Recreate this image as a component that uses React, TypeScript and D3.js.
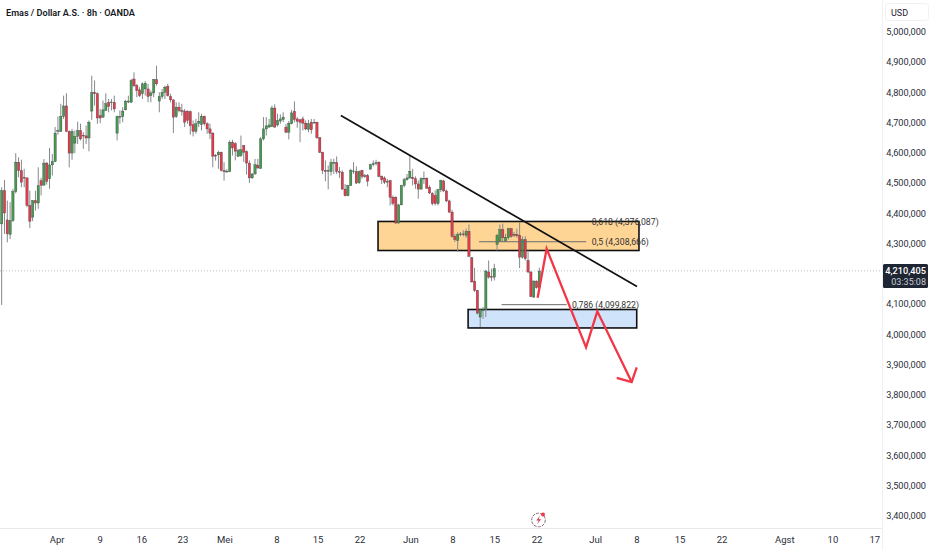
import React from 'react';
import * as d3 from 'd3';

// prices in thousandths of the axis unit
const opens = [4364,4474,4377,4329,4375,4471,4568,4540,4518,4516,4425,4386,4441,4433,4507,4492,4565,4513,4559,4570,4670,4670,4719,4754,4670,4598,4631,4653,4673,4657,4655,4648,4737,4799,4794,4722,4717,4739,4766,4765,4766,4664,4717,4719,4741,4767,4766,4843,4821,4807,4794,4810,4810,4788,4797,4841,4770,4785,4799,4819,4785,4774,4719,4750,4739,4737,4737,4735,4692,4670,4697,4692,4720,4695,4678,4664,4591,4592,4601,4541,4536,4537,4634,4629,4587,4590,4623,4603,4565,4516,4529,4558,4547,4645,4678,4684,4686,4747,4691,4704,4709,4684,4667,4695,4736,4711,4708,4711,4697,4676,4700,4698,4700,4649,4601,4541,4538,4537,4565,4567,4537,4535,4479,4457,4491,4537,4537,4500,4541,4523,4524,4545,4560,4564,4568,4521,4516,4502,4507,4452,4452,4367,4427,4491,4510,4516,4518,4513,4496,4479,4513,4515,4485,4464,4458,4431,4477,4506,4473,4440,4403,4323,4309,4328,4331,4326,4339,4252,4175,4144,4056,4078,4080,4205,4190,4188,4296,4307,4345,4307,4318,4348,4329,4329,4326,4254,4312,4243,4205,4122,4175,4153];
const closes = [4474,4400,4331,4375,4471,4568,4540,4502,4516,4425,4373,4441,4433,4490,4492,4565,4505,4559,4570,4664,4673,4719,4754,4670,4598,4670,4653,4673,4645,4655,4648,4700,4798,4794,4714,4714,4741,4761,4752,4767,4744,4719,4719,4737,4770,4770,4838,4821,4805,4788,4827,4829,4785,4797,4841,4827,4785,4799,4816,4788,4774,4717,4750,4739,4737,4700,4706,4689,4670,4695,4703,4720,4695,4678,4664,4588,4588,4601,4541,4537,4538,4634,4615,4604,4607,4609,4601,4565,4516,4529,4560,4549,4645,4678,4688,4691,4747,4684,4706,4711,4717,4667,4697,4731,4709,4703,4700,4697,4678,4695,4675,4700,4649,4601,4541,4537,4541,4567,4567,4537,4535,4479,4457,4491,4541,4539,4499,4537,4521,4521,4505,4560,4563,4566,4521,4510,4502,4505,4452,4432,4367,4427,4491,4510,4516,4538,4513,4496,4479,4513,4515,4482,4466,4431,4431,4477,4508,4473,4440,4403,4323,4312,4329,4331,4328,4339,4257,4172,4144,4069,4080,4080,4208,4188,4188,4216,4326,4345,4318,4320,4348,4323,4326,4325,4254,4312,4249,4205,4124,4175,4153,4208];
const highs = [4485,4509,4441,4436,4480,4598,4584,4576,4546,4518,4474,4443,4474,4551,4516,4578,4568,4615,4595,4684,4719,4761,4788,4796,4673,4678,4673,4702,4695,4667,4689,4706,4854,4838,4799,4744,4772,4796,4777,4777,4788,4722,4739,4750,4774,4788,4843,4865,4827,4816,4832,4836,4827,4805,4843,4887,4799,4810,4821,4827,4794,4776,4766,4766,4761,4744,4739,4739,4706,4711,4733,4728,4722,4700,4695,4667,4595,4606,4603,4568,4545,4640,4642,4634,4612,4656,4625,4607,4574,4532,4579,4579,4651,4717,4717,4711,4755,4759,4728,4726,4733,4695,4704,4741,4769,4717,4711,4719,4706,4708,4711,4711,4702,4651,4603,4574,4557,4579,4579,4587,4552,4541,4496,4493,4546,4568,4554,4541,4543,4529,4529,4563,4574,4576,4571,4524,4521,4513,4510,4458,4455,4430,4493,4516,4529,4590,4546,4521,4507,4518,4537,4518,4491,4469,4475,4480,4510,4510,4477,4444,4411,4331,4337,4337,4343,4348,4362,4254,4219,4146,4084,4089,4212,4243,4216,4232,4331,4362,4365,4331,4351,4351,4337,4348,4370,4323,4323,4276,4207,4177,4177,4219];
const lows = [4096,4331,4303,4314,4370,4465,4518,4485,4485,4419,4350,4373,4408,4414,4458,4491,4494,4480,4524,4568,4659,4668,4711,4667,4551,4576,4598,4628,4640,4612,4628,4604,4708,4755,4695,4697,4714,4737,4733,4739,4733,4640,4695,4700,4739,4763,4764,4816,4783,4783,4777,4788,4766,4766,4783,4821,4733,4777,4777,4785,4766,4664,4714,4733,4722,4684,4695,4659,4653,4662,4684,4673,4689,4662,4645,4551,4573,4546,4537,4507,4534,4535,4590,4574,4585,4585,4568,4527,4499,4513,4527,4546,4546,4640,4656,4682,4684,4682,4686,4695,4700,4664,4643,4693,4700,4682,4634,4673,4673,4667,4662,4695,4645,4598,4529,4505,4478,4524,4529,4529,4516,4477,4455,4455,4489,4529,4496,4496,4513,4516,4488,4544,4554,4557,4518,4496,4496,4485,4425,4425,4364,4364,4425,4485,4507,4513,4491,4480,4447,4477,4496,4480,4463,4425,4425,4425,4469,4469,4436,4400,4318,4304,4271,4323,4323,4318,4254,4170,4139,4065,4023,4050,4056,4183,4175,4177,4276,4304,4304,4304,4312,4318,4320,4318,4218,4249,4243,4201,4122,4120,4150,4150];

const priceTicks = [5000,4900,4800,4700,4600,4500,4400,4300,4100,4000,3900,3800,3700,3600,3500,3400];
const timeLabels = ['Apr','9','16','23','Mei','8','15','22','Jun','8','15','22','Jul','8','15','22','Agst','10','17'];
const timeBars = [19.7,35,49.8,64.4,79.3,97.8,112.4,127.3,145.4,160.3,175.2,190.2,211,225.7,241,255.9,278.2,295.3,310.2];

const lastPrice = 4210.405;
const trendLine: [number, number][] = [[120.5,4722],[225.7,4157]];
const supplyZone = { bars: [133.7,226.4], prices: [4372,4276] };
const demandZone = { bars: [165.7,225.6], prices: [4081,4020] };
const fibLevels = [
  { label: '0,618 (4,376,087)', price: 4372, bars: null as number[] | null, textBar: 209.6 },
  { label: '0,5 (4,308,666)', price: 4305, bars: [169.6,207.6], textBar: 209.6 },
  { label: '0,786 (4,099,822)', price: 4097, bars: [177.6,200.7], textBar: 202.6 },
];
const projection: [number, number][] = [[190.4,4120],[193.6,4282],[207.6,3956],[211.6,4075],[223.8,3841]];
const arrowHead: [number, number][] = [[218.5,3855],[223.8,3841],[225.6,3890]];

const FONT = 'Roboto, "Open Sans", sans-serif';
const GREEN = '#459a50';
const RED = '#e63a4c';

const x = d3.scaleLinear().domain([0, 310]).range([1.67, 874.3]);
const y = d3.scaleLinear().domain([3400, 5000]).range([515.5, 31.5]);
const line = d3.line<[number, number]>().x(d => x(d[0])).y(d => y(d[1]));
const fmt = d3.format(',');

const App: React.FC = () => {
  const lastY = y(lastPrice);
  return (
    <svg width={932} height={550} viewBox="0 0 932 550" style={{ position: 'absolute', left: 0, top: 0, background: '#fff', fontFamily: FONT }}>
      {/* frame */}
      <line x1={882.5} x2={882.5} y1={0} y2={550} stroke="#eef0f3" />
      <line x1={0} x2={882} y1={528.5} y2={528.5} stroke="#e8eaee" />
      <rect x={885.5} y={3.5} width={43} height={17} rx={3} fill="#fff" stroke="#f0f1f4" />
      <text x={891} y={15.5} fontSize={9} fill="#1e222d">USD</text>

      {/* zones sit behind the candles */}
      <rect x={x(supplyZone.bars[0])} width={x(supplyZone.bars[1]) - x(supplyZone.bars[0])} y={y(supplyZone.prices[0])} height={y(supplyZone.prices[1]) - y(supplyZone.prices[0])} fill="#ffd596" stroke="#111" strokeWidth={1.6} />
      <rect x={x(demandZone.bars[0])} width={x(demandZone.bars[1]) - x(demandZone.bars[0])} y={y(demandZone.prices[0])} height={y(demandZone.prices[1]) - y(demandZone.prices[0])} fill="#cfe3fb" stroke="#111" strokeWidth={1.6} />

      {/* last price */}
      <line x1={0} x2={882} y1={lastY + 0.5} y2={lastY + 0.5} stroke="#b8bcc4" strokeWidth={1} strokeDasharray="1 2" />

      {/* candles */}
      {opens.map((o, i) => {
        const c = closes[i];
        const top = y(Math.max(o, c));
        const bottom = y(Math.min(o, c));
        return (
          <g key={i}>
            <line x1={x(i)} x2={x(i)} y1={y(highs[i])} y2={y(lows[i])} stroke="#85888c" strokeWidth={1} />
            <rect x={x(i) - 1.15} width={2.3} y={top} height={Math.max(bottom - top, 0.8)} fill={c >= o ? GREEN : RED} stroke="#3a3e41" strokeWidth={0.35} />
          </g>
        );
      })}

      {/* fib levels */}
      {fibLevels.map(f => (
        <g key={f.label}>
          {f.bars && <line x1={x(f.bars[0])} x2={x(f.bars[1])} y1={y(f.price)} y2={y(f.price)} stroke="#6b6b6b" strokeWidth={1} />}
          <text x={x(f.textBar)} y={y(f.price) + 3.2} fontSize={8.7} fill="#333">{f.label}</text>
        </g>
      ))}

      {/* drawings */}
      <path d={line(trendLine) ?? ''} fill="none" stroke="#111" strokeWidth={1.7} />
      <path d={line(projection) ?? ''} fill="none" stroke="#f23645" strokeWidth={2.3} />
      <path d={line(arrowHead) ?? ''} fill="none" stroke="#f23645" strokeWidth={2.3} />

      {/* axes */}
      {priceTicks.map(p => (
        <text key={p} x={926} y={y(p) + 3.6} textAnchor="end" fontSize={9.2} fill="#2a2e39">{fmt(p * 1000)}</text>
      ))}
      {timeLabels.map((t, i) => (
        <text key={i} x={x(timeBars[i])} y={543} textAnchor="middle" fontSize={9.5} fill="#2a2e39">{t}</text>
      ))}

      {/* last price tag */}
      <rect x={883} y={264} width={45} height={24} rx={1.5} fill="#1f2633" />
      <text x={926} y={273.5} textAnchor="end" fontSize={9.2} fontWeight={500} fill="#fff">{fmt(Math.round(lastPrice * 1000))}</text>
      <text x={926} y={284.5} textAnchor="end" fontSize={9} fill="#c8ccd4">03:35:08</text>

      {/* title */}
      <text x={6} y={15.5} fontSize={9.1} fontWeight={600} fill="#131722">Emas / Dollar A.S. · 8h · OANDA</text>

      {/* logo */}
      <g>
        <circle cx={538.5} cy={520} r={6.8} fill="none" stroke="#8a6a78" strokeWidth={1} strokeDasharray="3 1.2" />
        <path d="M540 515.5 L536.3 520.5 L538.8 520.5 L537 524.5 L541 519.3 L538.5 519.3 Z" fill="#c8384c" />
        <circle cx={543} cy={514.5} r={2} fill="#f23645" />
      </g>
    </svg>
  );
};

export default App;
